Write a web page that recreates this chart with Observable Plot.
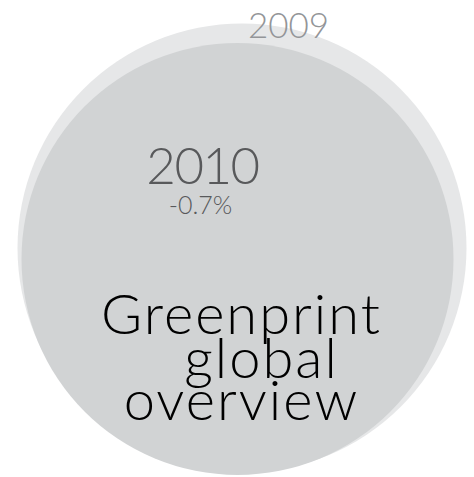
<!DOCTYPE html>
<html>
<head>
<meta charset="utf-8">
<script src="https://cdn.jsdelivr.net/npm/d3@7"></script>
<script src="https://cdn.jsdelivr.net/npm/@observablehq/plot@0.6"></script>
<style>
  html, body { margin: 0; padding: 0; background: #fff; }
  .title-line text { letter-spacing: 2px; }
  .year-2010 text { letter-spacing: -1.5px; }
</style>
</head>
<body>
<div id="chart"></div>
<script>
const years = ["2009", "2010"];
const values = [100, 99.3];
const changeLabels = ["", "-0.7%"];
const titleLines = ["Greenprint", "global", "overview"];

const data = years.map((y, i) => ({year: y, value: values[i], change: changeLabels[i]}));
const d2009 = data.filter(d => d.year === "2009");
const d2010 = data.filter(d => d.year === "2010");

const font = "Lato, 'Open Sans', sans-serif";
const titleOffsets = [{dx: 4, dy: 94.5}, {dx: 24, dy: 138.5}, {dx: 4, dy: 180.5}];

const chart = Plot.plot({
  width: 474,
  height: 477,
  margin: 0,
  r: {type: "linear", domain: [99.3, 100], range: [216, 224.5]},
  style: {background: "#fff", fontFamily: font},
  marks: [
    Plot.dot(d2009, {r: "value", frameAnchor: "middle", dx: 4.5, dy: 9, fill: "#e6e7e8", stroke: null}),
    Plot.dot(d2010, {r: "value", frameAnchor: "middle", dx: 0, dy: 20, fill: "#d1d3d4", stroke: null}),
    Plot.text(d2009, {text: "year", frameAnchor: "middle", dx: 51, dy: -201.5, lineAnchor: "bottom", textAnchor: "middle", fontSize: 35, fontWeight: 300, fill: "#939598"}),
    Plot.text(d2010, {text: "year", className: "year-2010", frameAnchor: "middle", dx: -35, dy: -55.5, lineAnchor: "bottom", textAnchor: "middle", fontSize: 51, fontWeight: 300, fill: "#58595b"}),
    Plot.text(d2010, {text: "change", frameAnchor: "middle", dx: -37, dy: -25.5, lineAnchor: "bottom", textAnchor: "middle", fontSize: 25, fontWeight: 300, fill: "#58595b"}),
    ...titleLines.map((t, i) => Plot.text([t], {text: d => d, className: "title-line", frameAnchor: "middle", dx: titleOffsets[i].dx, dy: titleOffsets[i].dy, lineAnchor: "bottom", textAnchor: "middle", fontSize: 56, fontWeight: 300, fill: "#000"}))
  ]
});
document.getElementById("chart").appendChild(chart);
</script>
</body>
</html>
